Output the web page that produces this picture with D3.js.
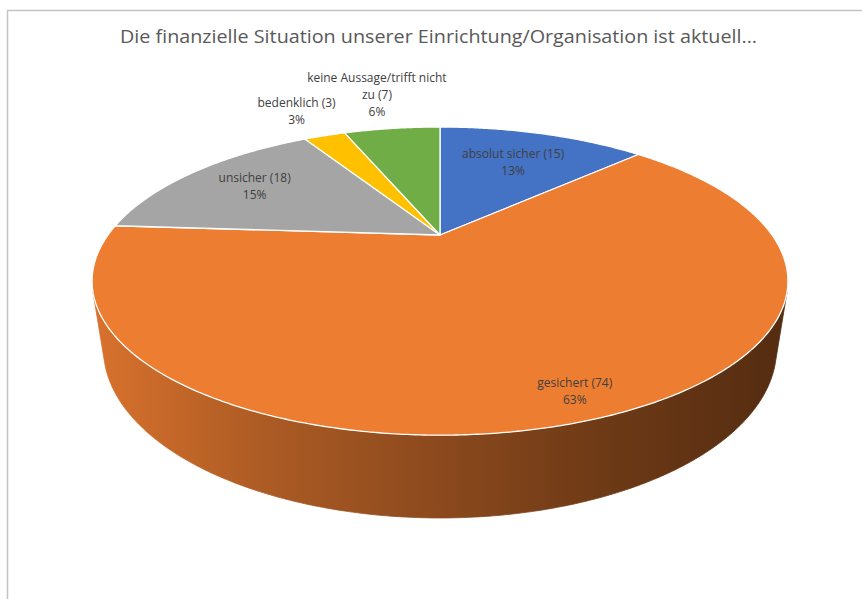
<!DOCTYPE html>
<html>
<head>
<meta charset="utf-8">
<script src="https://cdn.jsdelivr.net/npm/d3@7"></script>
<style>
  body { margin: 0; background: #fff; }
  svg { display: block; }
  text { font-family: "Open Sans", "Noto Sans", sans-serif; }
</style>
</head>
<body>
<div id="chart"></div>
<script>
// data
var categories = ["absolut sicher", "gesichert", "unsicher", "bedenklich", "keine Aussage/trifft nicht zu"];
var counts = [15, 74, 18, 3, 7];
var colors = ["#4472c4", "#ed7d31", "#a5a5a5", "#ffc000", "#70ad47"];
var title = "Die finanzielle Situation unserer Einrichtung/Organisation ist aktuell...";

// label distance from pie centre (fraction of radius), layout only
var labelRadius = [0.665, 0.89, 0.73, 1.33, 1.45];

var w = 862, h = 599;
var cx = 440, cy = 235;   // pie apex on screen
var S = 332;              // screen scale of radius
var tilt = 25 * Math.PI / 180;
var k = 0.299;            // perspective strength
var depthH = 0.222;       // pie thickness (fraction of radius)

var cosA = Math.cos(tilt), sinA = Math.sin(tilt);
var dist = cosA / k;

// 3d -> screen (X right, Y up, Z away from viewer)
function proj(X, Y, Z) {
  var depth = dist + Z * cosA - Y * sinA;
  var up = Z * sinA + Y * cosA;
  return [cx + S * X * dist / depth, cy - S * up * dist / depth];
}
function rim(a, r, Y) {
  return proj(r * Math.sin(a), Y, r * Math.cos(a));
}
function sampleAngles(a0, a1) {
  var n = Math.max(2, Math.ceil((a1 - a0) / (Math.PI / 360)));
  return d3.range(n + 1).map(function(i) { return a0 + (a1 - a0) * i / n; });
}

var total = d3.sum(counts);
var pct = d3.format(".0%");

var pie = d3.pie().sort(null).value(function(d) { return d; });
var arcs = pie(counts);

var line = d3.line().curve(d3.curveLinearClosed);

var svg = d3.select("#chart")
  .append("svg")
  .attr("width", w)
  .attr("height", h);

// chart frame
svg.append("rect")
  .attr("x", 7.5)
  .attr("y", 10.5)
  .attr("width", 900)
  .attr("height", 700)
  .attr("fill", "#fff")
  .attr("stroke", "#c4c4c4")
  .attr("stroke-width", 1.5);

svg.append("text")
  .attr("x", 438.5)
  .attr("y", 43)
  .attr("text-anchor", "middle")
  .attr("font-size", 19)
  .attr("fill", "#595959")
  .attr("textLength", 637)
  .attr("lengthAdjust", "spacingAndGlyphs")
  .text(title);

// side shading gradients
var defs = svg.append("defs");
var shade = [0.25, 0.9, 1.5, 2.2, 2.9];
colors.forEach(function(c, i) {
  var g = defs.append("linearGradient")
    .attr("id", "side" + i)
    .attr("gradientUnits", "userSpaceOnUse")
    .attr("x1", cx - S * 1.05).attr("x2", cx + S * 1.05)
    .attr("y1", 0).attr("y2", 0);
  shade.forEach(function(s, j) {
    g.append("stop")
      .attr("offset", j / (shade.length - 1))
      .attr("stop-color", d3.color(c).darker(s).formatHex());
  });
});

// visible part of the cylinder wall
var limit = Math.acos(-1 / (dist * cosA));
var visLo = limit, visHi = 2 * Math.PI - limit;

arcs.forEach(function(a, i) {
  var a0 = Math.max(a.startAngle, visLo), a1 = Math.min(a.endAngle, visHi);
  if (a1 <= a0) return;
  var angs = sampleAngles(a0, a1);
  var pts = angs.map(function(t) { return rim(t, 1, 0); })
    .concat(angs.slice().reverse().map(function(t) { return rim(t, 1, -depthH); }));
  svg.append("path")
    .attr("d", line(pts))
    .attr("fill", "url(#side" + i + ")")
    .attr("stroke", "url(#side" + i + ")")
    .attr("stroke-width", 0.8);
});

// top faces
arcs.forEach(function(a, i) {
  var pts = [proj(0, 0, 0)].concat(sampleAngles(a.startAngle, a.endAngle).map(function(t) { return rim(t, 1, 0); }));
  svg.append("path")
    .attr("d", line(pts))
    .attr("fill", colors[i])
    .attr("stroke", "#fff")
    .attr("stroke-width", 1.3)
    .attr("stroke-linejoin", "round");
});

// data labels
var lineH = 17;
var fs = 12;
arcs.forEach(function(a, i) {
  var mid = (a.startAngle + a.endAngle) / 2;
  var p = rim(mid, labelRadius[i], 0);
  var t = svg.append("text")
    .attr("text-anchor", "middle")
    .attr("font-size", fs)
    .attr("fill", "#404040");

  // wrap the category text like the original
  var words = (categories[i] + " (" + counts[i] + ")").split(" ");
  var lines = [], cur = "";
  var probe = svg.append("text").attr("font-size", fs);
  words.forEach(function(wd) {
    var test = cur ? cur + " " + wd : wd;
    probe.text(test);
    if (cur && probe.node().getComputedTextLength() > 145) {
      lines.push(cur);
      cur = wd;
    } else {
      cur = test;
    }
  });
  lines.push(cur);
  probe.remove();
  lines.push(pct(counts[i] / total));

  var y0 = p[1] - (lines.length - 1) * lineH / 2 + 4;
  lines.forEach(function(l, j) {
    t.append("tspan")
      .attr("x", p[0])
      .attr("y", y0 + j * lineH)
      .text(l);
  });
});
</script>
</body>
</html>
